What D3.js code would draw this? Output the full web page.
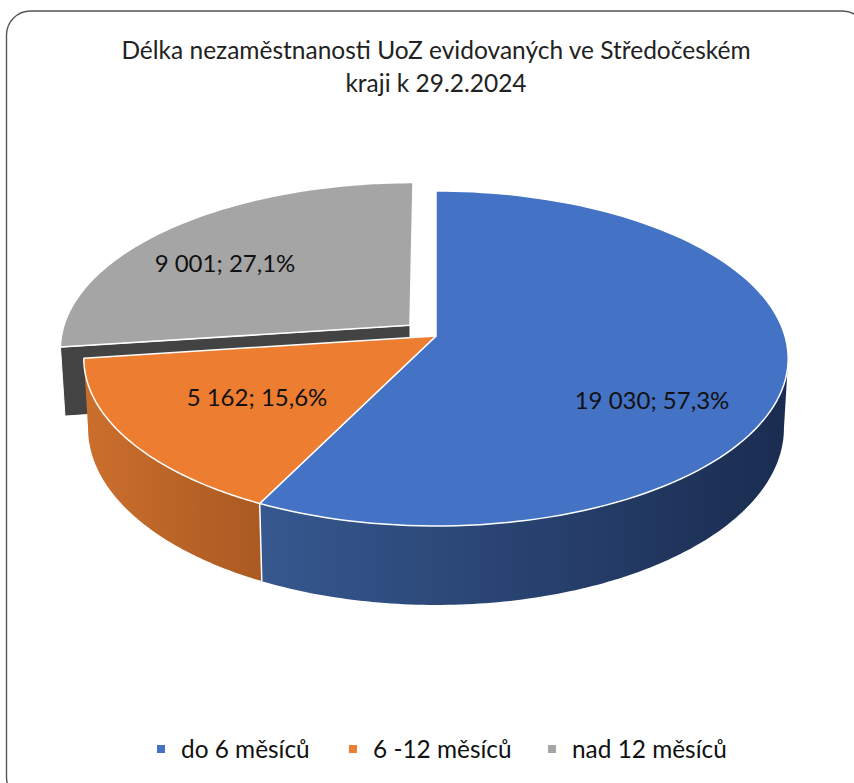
<!DOCTYPE html>
<html>
<head>
<meta charset="utf-8">
<script src="https://cdn.jsdelivr.net/npm/d3@7.9.0/dist/d3.min.js"></script>
<style>
  body { margin: 0; background: #fff; }
  svg { display: block; font-family: Lato, sans-serif; }
</style>
</head>
<body>
<svg id="chart" width="854" height="783"></svg>
<script>
const categories = ['do 6 měsíců', '6 -12 měsíců', 'nad 12 měsíců'];
const values = [19030, 5162, 9001];
const valueLabels = ['19 030', '5 162', '9 001'];
const percentLabels = ['57,3%', '15,6%', '27,1%'];
const titleLines = ['Délka nezaměstnanosti UoZ evidovaných ve Středočeském', 'kraji k 29.2.2024'];

const topColors = ['#4472c4', '#ed7d31', '#a5a5a5'];
const sideGradients = [['#36588f', '#1a2c50'], ['#cc6f2d', '#aa5a22'], ['#434343', '#434343']];
const explode = [0, 0, 0.1];
const labelCenters = [[652, 401], [257, 398], [225, 264]];
const legendX = [157, 349, 548];

// perspective of the tilted disc, fitted to the picture
const cx = 436, cy = 336, bx = 349, ay = 164.5, tilt = 0.134, depth = 68.4, shrink = 0.012;

function project(u, v, z) {
  const w = 1 + tilt * v;
  return [cx + bx * u * (1 - shrink * z) / w, cy - (ay * v - depth * z) / w];
}

const svg = d3.select('#chart');
const defs = svg.append('defs');

svg.append('rect')
  .attr('x', 6.5).attr('y', 11)
  .attr('width', 860).attr('height', 790)
  .attr('rx', 24)
  .attr('fill', '#fff')
  .attr('stroke', '#555')
  .attr('stroke-width', 1.4);

const slices = d3.pie().sort(null).value((d) => d)(values).map((s, i) => {
  const du = explode[i] * Math.sin((s.startAngle + s.endAngle) / 2);
  const dv = explode[i] * Math.cos((s.startAngle + s.endAngle) / 2);
  return { ...s, i, du, dv };
});

function arcPoints(s, z, from = s.startAngle) {
  return d3.range(0, 121).map((k) => {
    const a = from + (s.endAngle - from) * k / 120;
    return project(s.du + Math.sin(a), s.dv + Math.cos(a), z);
  });
}

const line = d3.line();
const apex = (s, z) => project(s.du, s.dv, z);
const edge = (s, a, z) => project(s.du + Math.sin(a), s.dv + Math.cos(a), z);

// the wall is only seen from the right-hand tangent of the disc onward
const tangentAngle = Math.acos(-tilt);

sideGradients.forEach((colors, i) => {
  const xs = arcPoints(slices[i], 0).map((p) => p[0]);
  const g = defs.append('linearGradient')
    .attr('id', 'side' + i)
    .attr('gradientUnits', 'userSpaceOnUse')
    .attr('x1', d3.min(xs)).attr('x2', d3.max(xs))
    .attr('y1', 0).attr('y2', 0);
  g.append('stop').attr('offset', 0).attr('stop-color', colors[0]);
  g.append('stop').attr('offset', 1).attr('stop-color', colors[1]);
});

// grey slice cut face, behind everything else
const grey = slices[2];
svg.append('path')
  .attr('d', line([apex(grey, 0), edge(grey, grey.startAngle, 0), edge(grey, grey.startAngle, 1), apex(grey, 1)]) + 'Z')
  .attr('fill', 'url(#side2)')
  .attr('stroke', '#fff')
  .attr('stroke-width', 1);

// outer walls of the two front slices
slices.slice(0, 2).forEach((s) => {
  const from = Math.max(s.startAngle, tangentAngle);
  const pts = arcPoints(s, 0, from).concat(arcPoints(s, 1, from).reverse());
  svg.append('path')
    .attr('d', line(pts) + 'Z')
    .attr('fill', `url(#side${s.i})`);
});

// white seam where the walls meet
svg.append('path')
  .attr('d', line([edge(slices[0], slices[0].endAngle, 0), edge(slices[0], slices[0].endAngle, 1)]))
  .attr('stroke', '#fff')
  .attr('stroke-width', 1.5)
  .attr('fill', 'none');

// top faces
svg.append('g').selectAll('path')
  .data(slices)
  .join('path')
  .attr('d', (s) => line([apex(s, 0), ...arcPoints(s, 0)]) + 'Z')
  .attr('fill', (s) => topColors[s.i])
  .attr('stroke', '#fff')
  .attr('stroke-width', 1.5)
  .attr('stroke-linejoin', 'round');

svg.append('g').selectAll('text')
  .data(slices)
  .join('text')
  .attr('x', (s) => labelCenters[s.i][0])
  .attr('y', (s) => labelCenters[s.i][1])
  .attr('dy', '0.35em')
  .attr('text-anchor', 'middle')
  .attr('font-size', 24)
  .attr('fill', '#111')
  .text((s) => `${valueLabels[s.i]}; ${percentLabels[s.i]}`);

svg.append('g').selectAll('text')
  .data(titleLines)
  .join('text')
  .attr('x', 436)
  .attr('y', (d, i) => 59 + i * 33)
  .attr('text-anchor', 'middle')
  .attr('font-size', 24.5)
  .attr('fill', '#222')
  .text((d) => d);

const legend = svg.append('g').selectAll('g')
  .data(categories)
  .join('g')
  .attr('transform', (d, i) => `translate(${legendX[i]}, 749)`);

legend.append('rect')
  .attr('y', -4).attr('width', 8).attr('height', 8)
  .attr('fill', (d, i) => topColors[i]);

legend.append('text')
  .attr('x', 24)
  .attr('dy', '0.35em')
  .attr('font-size', 24.4)
  .attr('fill', '#111')
  .text((d) => d);
</script>
</body>
</html>
